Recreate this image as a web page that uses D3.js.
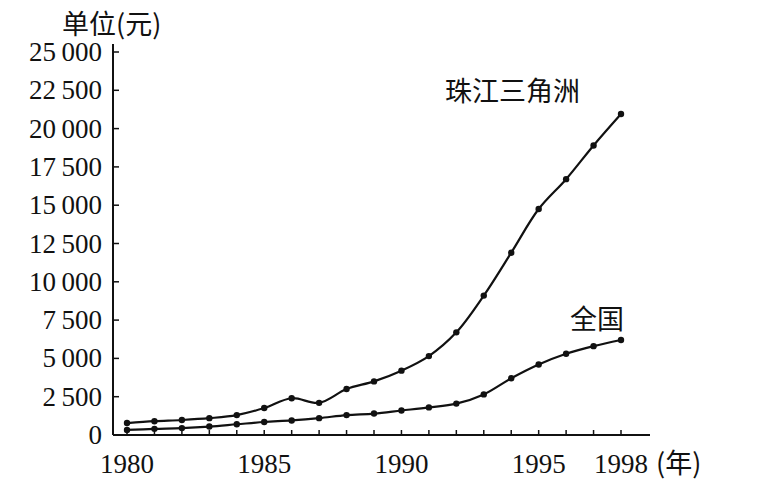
<!DOCTYPE html>
<html>
<head>
<meta charset="utf-8">
<script src="https://d3js.org/d3.v7.min.js"></script>
<style>
  body { margin: 0; background: #fff; }
  text { fill: #111; }
  .num { font-family: "Liberation Serif", "DejaVu Serif", serif; font-size: 27px; }
  .cjk { font-family: "Noto Sans CJK SC", sans-serif; font-size: 27px; }
</style>
</head>
<body>
<div id="chart"></div>
<script>
const years = d3.range(1980, 1999);
const zhujiang = [780, 900, 980, 1100, 1300, 1760, 2400, 2100, 3000, 3500, 4200, 5150, 6700, 9100, 11900, 14750, 16700, 18900, 20950];
const national = [330, 400, 450, 550, 700, 850, 950, 1100, 1300, 1400, 1600, 1800, 2050, 2650, 3700, 4600, 5300, 5800, 6200];
const yTicks = [0, 2500, 5000, 7500, 10000, 12500, 15000, 17500, 20000, 22500, 25000];
const xTicks = [1980, 1985, 1990, 1995, 1998];

const width = 777, height = 482;
const svg = d3.select("#chart").append("svg").attr("width", width).attr("height", height);
const x = d3.scaleLinear().domain([1980, 1998]).range([127, 621]);
const y = d3.scaleLinear().domain([0, 25000]).range([435, 52]);
const fmt = v => v >= 1000 ? Math.floor(v / 1000) + "\u2009" + String(v % 1000).padStart(3, "0") : String(v);

// axes lines
svg.append("line").attr("x1", 113).attr("x2", 113).attr("y1", 44).attr("y2", 435).attr("stroke", "#111").attr("stroke-width", 2);
svg.append("line").attr("x1", 113).attr("x2", 650).attr("y1", 435).attr("y2", 435).attr("stroke", "#111").attr("stroke-width", 2);

svg.selectAll(".yt").data(yTicks).enter().append("line")
  .attr("x1", 113).attr("x2", 119).attr("y1", d => y(d)).attr("y2", d => y(d)).attr("stroke", "#111").attr("stroke-width", 1.5);
svg.selectAll(".yl").data(yTicks).enter().append("text")
  .attr("class", "num")
  .attr("x", 102).attr("y", d => y(d) + 9).attr("text-anchor", "end")
  .text(d => fmt(d));

svg.selectAll(".xt").data(years).enter().append("line")
  .attr("x1", d => x(d)).attr("x2", d => x(d)).attr("y1", 435).attr("y2", 430).attr("stroke", "#111").attr("stroke-width", 1.5);
svg.selectAll(".xl").data(xTicks).enter().append("text")
  .attr("class", "num")
  .attr("x", d => x(d)).attr("y", 473).attr("text-anchor", "middle")
  .text(d => d);

const line = d3.line().x((d, i) => x(years[i])).y(d => y(d)).curve(d3.curveCatmullRom);
[zhujiang, national].forEach(s => {
  svg.append("path").datum(s).attr("d", line).attr("fill", "none").attr("stroke", "#111").attr("stroke-width", 2.2);
  svg.selectAll(null).data(s).enter().append("circle")
    .attr("cx", (d, i) => x(years[i])).attr("cy", d => y(d)).attr("r", 3.2).attr("fill", "#111");
});

svg.append("text").attr("class", "cjk").attr("x", 62).attr("y", 34).text("单位(元)");
svg.append("text").attr("class", "cjk").attr("x", 445).attr("y", 101).text("珠江三角洲");
svg.append("text").attr("class", "cjk").attr("x", 570).attr("y", 329).text("全国");
svg.append("text").attr("class", "cjk").attr("x", 656).attr("y", 473).text("(年)");
</script>
</body>
</html>
